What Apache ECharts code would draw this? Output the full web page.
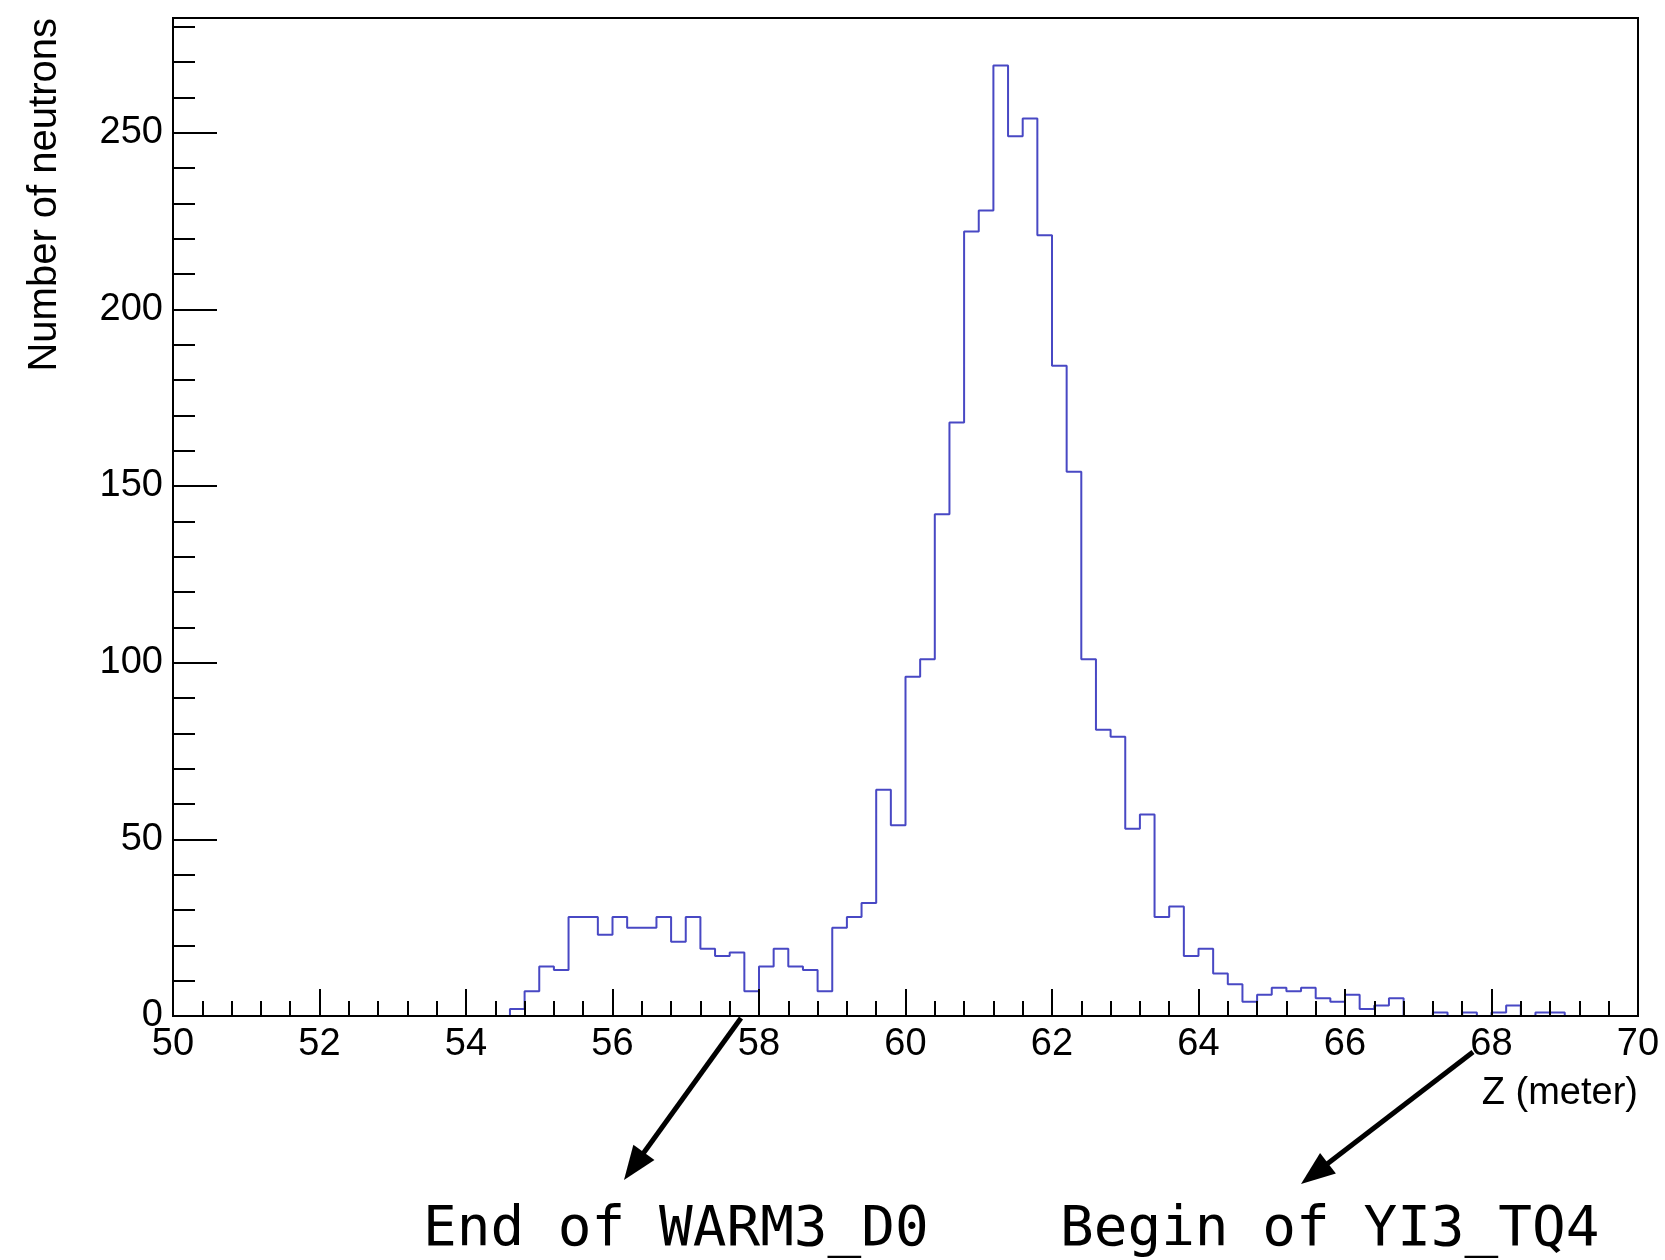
<!DOCTYPE html>
<html>
<head>
<meta charset="utf-8">
<script src="https://cdn.jsdelivr.net/npm/echarts@6/dist/echarts.min.js"></script>
<style>
html,body{margin:0;padding:0;background:#fff;}
#chart{width:1665px;height:1260px;}
</style>
</head>
<body>
<div id="chart"></div>
<script>
// ---- data ----
const binStart = 50;
const binWidth = 0.2;
const counts = [
  0,0,0,0,0,0,0,0,0,0, 0,0,0,0,0,0,0,0,0,0, 0,0,0,
  2,7,14,13,28,28,23,28,25,25,28,21,28,19,17,18,7,14,19,14,13,7,
  25,28,32,64,54,96,101,142,168,222,228,269,249,254,221,184,154,101,81,79,
  53,57,28,31,17,19,12,9,4,6,8,7,8,5,4,6,2,3,5,
  0,0,1,0,1,0,1,3,0,1,1,
  0,0,0,0,0
];
const xTicks = [50,52,54,56,58,60,62,64,66,68,70];
const yTicks = [0,50,100,150,200,250];
const yMinorTicks = [10,20,30,40,60,70,80,90,110,120,130,140,160,170,180,190,210,220,230,240,260,270,280];
const xTitle = 'Z (meter)';
const yTitle = 'Number of neutrons';
const note1 = 'End of WARM3_D0';
const note2 = 'Begin of YI3_TQ4';
const yMax = 282.45;

// build step points at bin edges
const stepData = counts.map((c, i) => [binStart + i * binWidth, c]);
stepData.push([binStart + counts.length * binWidth, counts[counts.length - 1]]);

const FONT = '"Liberation Sans", Arial, Helvetica, sans-serif';
const chart = echarts.init(document.getElementById('chart'), null, {renderer: 'canvas'});

function arrow(x0, y0, x1, y1) {
  const dx = x1 - x0, dy = y1 - y0;
  const len = Math.sqrt(dx * dx + dy * dy);
  const ux = dx / len, uy = dy / len;
  const hl = 34, hw = 13;
  const bx = x1 - ux * hl, by = y1 - uy * hl;
  const px = -uy, py = ux;
  return [
    {type: 'line', shape: {x1: x0, y1: y0, x2: bx + ux * 4, y2: by + uy * 4},
     style: {stroke: '#000', lineWidth: 5}, z: 20},
    {type: 'polygon', shape: {points: [[x1, y1], [bx + px * hw, by + py * hw], [bx - px * hw, by - py * hw]]},
     style: {fill: '#000'}, z: 20}
  ];
}

const option = {
  backgroundColor: '#fff',
  animation: false,
  grid: {left: 173, right: 27, top: 18, bottom: 244, show: true, borderColor: '#000', borderWidth: 2, backgroundColor: 'transparent'},
  xAxis: {
    type: 'value', min: 50, max: 70, interval: 2, z: 5,
    axisLine: {show: true, onZero: false, lineStyle: {color: '#000', width: 2}},
    axisTick: {show: true, inside: true, length: 27, lineStyle: {color: '#000', width: 2}},
    minorTick: {show: true, splitNumber: 5, length: 15, lineStyle: {color: '#000', width: 2}},
    axisLabel: {show: true, margin: 10, color: '#000', fontSize: 38, fontFamily: FONT,
      customValues: xTicks, formatter: v => String(v)},
    splitLine: {show: false}, minorSplitLine: {show: false}
  },
  yAxis: [{
    type: 'value', min: 0, max: yMax, interval: 50, z: 5,
    axisLine: {show: true, lineStyle: {color: '#000', width: 2}},
    axisTick: {show: true, inside: true, length: 44, customValues: yTicks, lineStyle: {color: '#000', width: 2}},
    axisLabel: {show: true, margin: 10, color: '#000', fontSize: 38, fontFamily: FONT,
      customValues: yTicks, formatter: v => String(v)},
    splitLine: {show: false}
  }, {
    type: 'value', min: 0, max: yMax, position: 'left', z: 5,
    axisLine: {show: false},
    axisTick: {show: true, inside: true, length: 22, customValues: yMinorTicks, lineStyle: {color: '#000', width: 2}},
    axisLabel: {show: false},
    splitLine: {show: false}
  }],
  series: [{
    type: 'line', step: 'end', data: stepData, showSymbol: false, symbol: 'none',
    yAxisIndex: 0, z: 2,
    lineStyle: {color: '#4848c4', width: 2}
  }],
  graphic: [
    {type: 'text', x: 45, y: 18, rotation: Math.PI / 2, z: 20,
     style: {text: yTitle, font: '40px "Liberation Sans", Arial, sans-serif', fill: '#000', align: 'right', verticalAlign: 'middle'}},
    {type: 'text', x: 1638, y: 1094, z: 20,
     style: {text: xTitle, font: '38px "Liberation Sans", Arial, sans-serif', fill: '#000', align: 'right', verticalAlign: 'middle'}},
    {type: 'text', x: 423, y: 1230, z: 20,
     style: {text: note1, font: '56px "DejaVu Sans Mono", monospace', fill: '#000', align: 'left', verticalAlign: 'middle'}},
    {type: 'text', x: 1060, y: 1230, z: 20,
     style: {text: note2, font: '56px "DejaVu Sans Mono", monospace', fill: '#000', align: 'left', verticalAlign: 'middle'}},
    ...arrow(741, 1018, 624, 1180),
    ...arrow(1473, 1052, 1301, 1184)
  ]
};
chart.setOption(option);
</script>
</body>
</html>
